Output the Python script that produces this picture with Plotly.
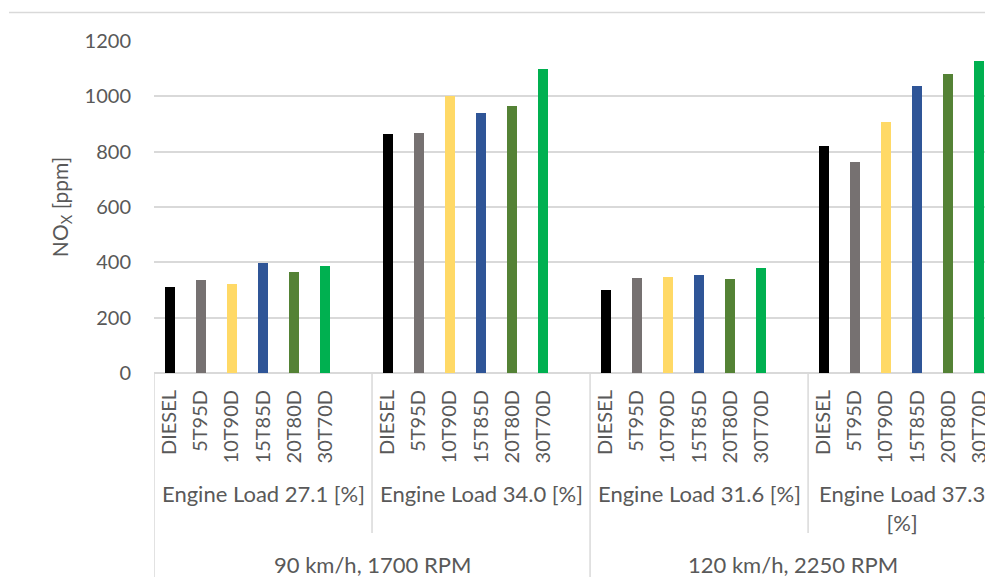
import plotly.graph_objects as go

fuels = ["DIESEL", "5T95D", "10T90D", "15T85D", "20T80D", "30T70D"]
colors = ["#000000", "#767171", "#FFD966", "#2F5597", "#548235", "#00B050"]
loads = ["Engine Load 27.1 [%]", "Engine Load 34.0 [%]", "Engine Load 31.6 [%]", "Engine Load 37.3<br>[%]"]
speeds = ["90 km/h, 1700 RPM", "120 km/h, 2250 RPM"]
# NOx [ppm] per fuel, one value per load group
values = {
    "DIESEL": [311, 864, 299, 820],
    "5T95D":  [335, 869, 342, 761],
    "10T90D": [321, 1000, 348, 909],
    "15T85D": [399, 939, 356, 1038],
    "20T80D": [366, 965, 339, 1079],
    "30T70D": [386, 1098, 379, 1127],
}

SLOTS = 7  # 6 bars + one spacer slot per load group
FONT = "Lato, 'Open Sans', sans-serif"
TXT = "#595959"

fig = go.Figure()
tickvals, ticktext = [], []
for i, f in enumerate(fuels):
    xs = [g * SLOTS + i for g in range(len(loads))]
    fig.add_trace(go.Bar(x=xs, y=values[f], width=0.32, marker=dict(color=colors[i], line=dict(width=0)),
                         name=f, showlegend=False, hoverinfo="skip"))
    tickvals += xs
    ticktext += [f] * len(xs)

# plot area pixel mapping helpers
H = 577
T, B = 41, 204
ph = H - T - B
def py(p):
    return (H - B - p) / ph

shapes = []
# group separators (load level)
for g in range(len(loads)):
    xsep = g * SLOTS - 0.5
    full = (g % 2 == 0)
    shapes.append(dict(type="line", xref="x", yref="paper", x0=xsep, x1=xsep,
                       y0=0, y1=py(577) if full else py(533), line=dict(color="#D9D9D9", width=1.5)))
# top border line
shapes.append(dict(type="line", xref="paper", yref="paper", x0=(9 - 154) / 831, x1=1.0,
                   y0=py(12.5), y1=py(12.5), line=dict(color="#D9D9D9", width=1.5)))

annotations = []
for g, lab in enumerate(loads):
    annotations.append(dict(x=g * SLOTS + 2.5 + (0.5 if g < len(loads) - 1 else 0), xref="x",
                            y=py(478), yref="paper", text=lab, showarrow=False,
                            xanchor="center", yanchor="top", font=dict(size=22, color=TXT, family=FONT)))
for s, lab in enumerate(speeds):
    cx = s * 2 * SLOTS + SLOTS - 0.5 - (0.5 if s == 1 else 0)
    annotations.append(dict(x=cx, xref="x", y=py(564), yref="paper", text=lab, showarrow=False,
                            xanchor="center", yanchor="middle", font=dict(size=22, color=TXT, family=FONT)))

fig.update_layout(
    width=985, height=577,
    margin=dict(l=154, r=0, t=T, b=B, autoexpand=False),
    paper_bgcolor="white", plot_bgcolor="white",
    font=dict(family=FONT, color=TXT, size=20),
    bargap=0,
    shapes=shapes,
    annotations=annotations,
    xaxis=dict(range=[-0.5, 26.18], tickvals=tickvals, ticktext=ticktext, tickangle=-90,
               ticks="outside", ticklen=8, tickcolor="rgba(0,0,0,0)", automargin=False,
               ticklabeloverflow="allow",
               showgrid=False, zeroline=False, showline=False,
               tickfont=dict(size=20, color=TXT, family=FONT)),
    yaxis=dict(range=[0, 1200], dtick=200, showgrid=True, gridcolor="#D9D9D9", gridwidth=1.5,
               zeroline=True, zerolinecolor="#D9D9D9", zerolinewidth=1.5, automargin=False,
               ticks="outside", ticklen=18, tickcolor="rgba(0,0,0,0)",
               tickfont=dict(size=20, color=TXT, family=FONT),
               title=dict(text="NO<sub>X</sub> [ppm]", standoff=10, font=dict(size=21, color=TXT, family=FONT))),
)

fig.write_html("out.html", config={"displayModeBar": False},
               post_script="document.body.style.margin='0';document.body.style.overflow='hidden';")
